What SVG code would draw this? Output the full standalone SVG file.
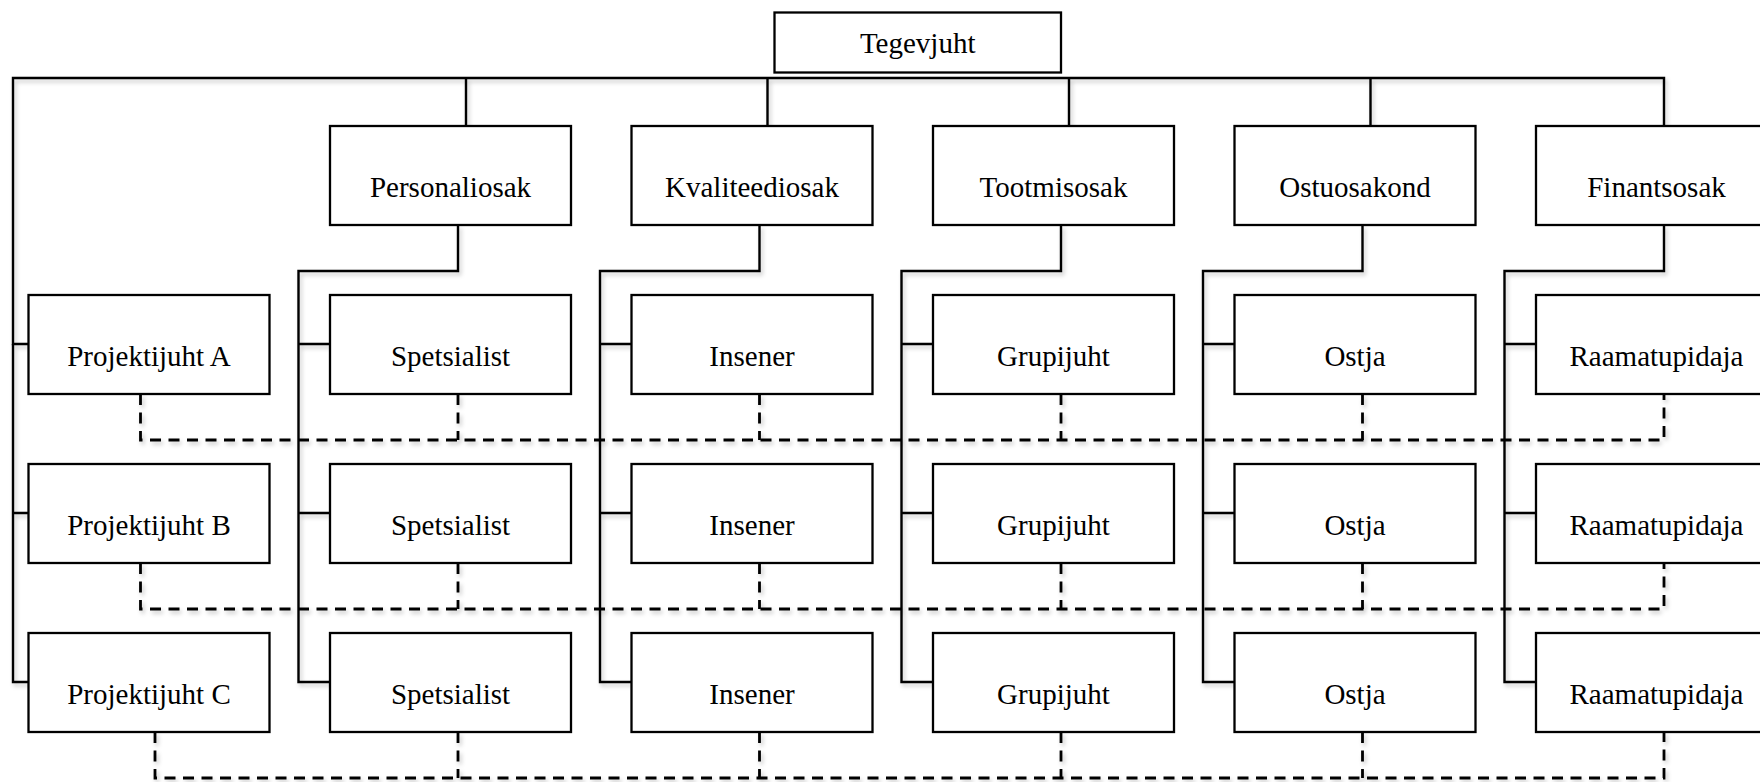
<svg xmlns="http://www.w3.org/2000/svg" width="1760" height="782" viewBox="0 0 1760 782">
<style>
.box{fill:#fff;stroke:#000;stroke-width:2.3}
.lbl{font-family:"Liberation Serif","Times New Roman",serif;font-size:29px;fill:#000;text-anchor:middle}
.ln{fill:none;stroke:#000;stroke-width:2.4;stroke-linejoin:miter}
.dash{fill:none;stroke:#000;stroke-width:2.8;stroke-dasharray:11 7.5}
</style>
<defs>
<filter id="sh" x="-5%" y="-5%" width="110%" height="115%">
<feDropShadow dx="2" dy="3" stdDeviation="2" flood-color="#000" flood-opacity="0.22"/>
</filter>
</defs>
<rect width="1760" height="782" fill="#fff"/>
<g id="connectors" filter="url(#sh)">
<path class="ln" d="M28.5,344 H13 V78 H1664 V126"/>
<path class="ln" d="M13,513 H28.5 M13,344 V682 H28.5"/>
<path class="ln" d="M466,78 V126 M767.5,78 V126 M1069,78 V126 M1370.5,78 V126"/>
<path class="ln" d="M458,225 V271 H298.5 V682 H330 M298.5,344 H330 M298.5,513 H330"/>
<path class="ln" d="M759.5,225 V271 H600 V682 H631.5 M600,344 H631.5 M600,513 H631.5"/>
<path class="ln" d="M1061,225 V271 H901.5 V682 H933 M901.5,344 H933 M901.5,513 H933"/>
<path class="ln" d="M1362.5,225 V271 H1203 V682 H1234.5 M1203,344 H1234.5 M1203,513 H1234.5"/>
<path class="ln" d="M1664,225 V271 H1504.5 V682 H1536 M1504.5,344 H1536 M1504.5,513 H1536"/>
<path class="dash" d="M140.5,394 V440 H1664 V394"/>
<path class="dash" d="M458,394 V440 M759.5,394 V440 M1061,394 V440 M1362.5,394 V440"/>
<path class="dash" d="M140.5,563 V609 H1664 V563"/>
<path class="dash" d="M458,563 V609 M759.5,563 V609 M1061,563 V609 M1362.5,563 V609"/>
<path class="dash" d="M155,732 V778 H1664 V732"/>
<path class="dash" d="M458,732 V778 M759.5,732 V778 M1061,732 V778 M1362.5,732 V778"/>
</g>
<g id="tegevjuht"><rect class="box" x="774.5" y="12.5" width="286.5" height="60"/><text class="lbl" x="917.7" y="53">Tegevjuht</text></g>
<g id="personaliosak"><rect class="box" x="330" y="126" width="241" height="99"/><text class="lbl" x="450.5" y="197">Personaliosak</text></g>
<g id="kvaliteediosak"><rect class="box" x="631.5" y="126" width="241" height="99"/><text class="lbl" x="752" y="197">Kvaliteediosak</text></g>
<g id="tootmisosak"><rect class="box" x="933" y="126" width="241" height="99"/><text class="lbl" x="1053.5" y="197">Tootmisosak</text></g>
<g id="ostuosakond"><rect class="box" x="1234.5" y="126" width="241" height="99"/><text class="lbl" x="1355" y="197">Ostuosakond</text></g>
<g id="finantsosak"><rect class="box" x="1536" y="126" width="241" height="99"/><text class="lbl" x="1656.5" y="197">Finantsosak</text></g>

<g id="projektijuht-a"><rect class="box" x="28.5" y="295" width="241" height="99"/><text class="lbl" x="149" y="366">Projektijuht A</text></g>
<g id="projektijuht-b"><rect class="box" x="28.5" y="464" width="241" height="99"/><text class="lbl" x="149" y="535">Projektijuht B</text></g>
<g id="projektijuht-c"><rect class="box" x="28.5" y="633" width="241" height="99"/><text class="lbl" x="149" y="704">Projektijuht C</text></g>

<g id="spetsialist-a"><rect class="box" x="330" y="295" width="241" height="99"/><text class="lbl" x="450.5" y="366">Spetsialist</text></g>
<g id="spetsialist-b"><rect class="box" x="330" y="464" width="241" height="99"/><text class="lbl" x="450.5" y="535">Spetsialist</text></g>
<g id="spetsialist-c"><rect class="box" x="330" y="633" width="241" height="99"/><text class="lbl" x="450.5" y="704">Spetsialist</text></g>

<g id="insener-a"><rect class="box" x="631.5" y="295" width="241" height="99"/><text class="lbl" x="752" y="366">Insener</text></g>
<g id="insener-b"><rect class="box" x="631.5" y="464" width="241" height="99"/><text class="lbl" x="752" y="535">Insener</text></g>
<g id="insener-c"><rect class="box" x="631.5" y="633" width="241" height="99"/><text class="lbl" x="752" y="704">Insener</text></g>

<g id="grupijuht-a"><rect class="box" x="933" y="295" width="241" height="99"/><text class="lbl" x="1053.5" y="366">Grupijuht</text></g>
<g id="grupijuht-b"><rect class="box" x="933" y="464" width="241" height="99"/><text class="lbl" x="1053.5" y="535">Grupijuht</text></g>
<g id="grupijuht-c"><rect class="box" x="933" y="633" width="241" height="99"/><text class="lbl" x="1053.5" y="704">Grupijuht</text></g>

<g id="ostja-a"><rect class="box" x="1234.5" y="295" width="241" height="99"/><text class="lbl" x="1355" y="366">Ostja</text></g>
<g id="ostja-b"><rect class="box" x="1234.5" y="464" width="241" height="99"/><text class="lbl" x="1355" y="535">Ostja</text></g>
<g id="ostja-c"><rect class="box" x="1234.5" y="633" width="241" height="99"/><text class="lbl" x="1355" y="704">Ostja</text></g>

<g id="raamatupidaja-a"><rect class="box" x="1536" y="295" width="241" height="99"/><text class="lbl" x="1656.5" y="366">Raamatupidaja</text></g>
<g id="raamatupidaja-b"><rect class="box" x="1536" y="464" width="241" height="99"/><text class="lbl" x="1656.5" y="535">Raamatupidaja</text></g>
<g id="raamatupidaja-c"><rect class="box" x="1536" y="633" width="241" height="99"/><text class="lbl" x="1656.5" y="704">Raamatupidaja</text></g>
</svg>
